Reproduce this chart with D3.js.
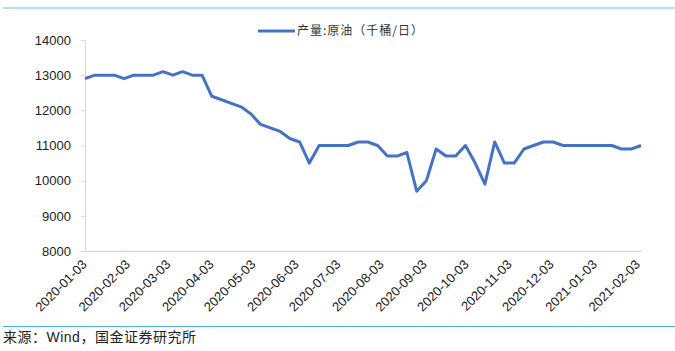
<!DOCTYPE html>
<html>
<head>
<meta charset="utf-8">
<script src="https://cdn.jsdelivr.net/npm/d3@7"></script>
<style>
  body { margin: 0; background: #fff; }
  svg { display: block; font-family: "Liberation Sans", Arial, sans-serif; }
</style>
</head>
<body>
<svg id="chart" width="675" height="351"></svg>
<script>
// weekly dates
const dates = [
  "2020-01-03","2020-01-10","2020-01-17","2020-01-24","2020-01-31",
  "2020-02-07","2020-02-14","2020-02-21","2020-02-28",
  "2020-03-06","2020-03-13","2020-03-20","2020-03-27",
  "2020-04-03","2020-04-10","2020-04-17","2020-04-24",
  "2020-05-01","2020-05-08","2020-05-15","2020-05-22","2020-05-29",
  "2020-06-05","2020-06-12","2020-06-19","2020-06-26",
  "2020-07-03","2020-07-10","2020-07-17","2020-07-24","2020-07-31",
  "2020-08-07","2020-08-14","2020-08-21","2020-08-28",
  "2020-09-04","2020-09-11","2020-09-18","2020-09-25",
  "2020-10-02","2020-10-09","2020-10-16","2020-10-23","2020-10-30",
  "2020-11-06","2020-11-13","2020-11-20","2020-11-27",
  "2020-12-04","2020-12-11","2020-12-18","2020-12-25",
  "2021-01-01","2021-01-08","2021-01-15","2021-01-22","2021-01-29",
  "2021-02-05"
];

// 产量:原油 (千桶/日)
const output = [
  12900, 13000, 13000, 13000, 12900,
  13000, 13000, 13000, 13100,
  13000, 13100, 13000, 13000,
  12400, 12300, 12200, 12100,
  11900, 11600, 11500, 11400, 11200,
  11100, 10500, 11000, 11000,
  11000, 11000, 11100, 11100, 11000,
  10700, 10700, 10800, 9700,
  10000, 10900, 10700, 10700,
  11000, 10500, 9900, 11100, 10500,
  10500, 10900, 11000, 11100,
  11100, 11000, 11000, 11000,
  11000, 11000, 11000, 10900, 10900,
  11000
];

const xTickLabels = [
  "2020-01-03","2020-02-03","2020-03-03","2020-04-03","2020-05-03",
  "2020-06-03","2020-07-03","2020-08-03","2020-09-03","2020-10-03",
  "2020-11-03","2020-12-03","2021-01-03","2021-02-03"
];
const yTicks = [8000, 9000, 10000, 11000, 12000, 13000, 14000];

const parse = d3.timeParse("%Y-%m-%d");
const data = dates.map((d, i) => ({ date: parse(d), value: output[i] }));

const svg = d3.select("#chart");

const x = d3.scaleTime()
  .domain([parse(dates[0]), parse(dates[dates.length - 1])])
  .range([85, 641]);

const y = d3.scaleLinear()
  .domain([8000, 14000])
  .range([251, 40]);

// top & bottom decoration lines
svg.append("line")
  .attr("x1", 3).attr("x2", 675).attr("y1", 8).attr("y2", 8)
  .attr("stroke", "#9dd3f2").attr("stroke-width", 1.5);
svg.append("line")
  .attr("x1", 3).attr("x2", 675).attr("y1", 326.5).attr("y2", 326.5)
  .attr("stroke", "#4db3e6").attr("stroke-width", 1.2);

// y axis
const yAxis = svg.append("g")
  .attr("transform", "translate(85,0)")
  .call(d3.axisLeft(y).tickValues(yTicks).tickSize(4).tickPadding(10).tickFormat(d3.format("d")));
yAxis.select(".domain").attr("stroke", "#d9d9d9");
yAxis.selectAll(".tick line").attr("stroke", "#d9d9d9");
yAxis.selectAll("text")
  .style("font-size", "13px")
  .attr("fill", "#222");

// x axis
const xAxis = svg.append("g")
  .attr("transform", "translate(0,251)")
  .call(d3.axisBottom(x).tickValues(xTickLabels.map(parse)).tickSize(0).tickFormat(d3.timeFormat("%Y-%m-%d")));
xAxis.select(".domain").attr("stroke", "#d9d9d9").attr("stroke-width", 1.5);
xAxis.selectAll("text")
  .style("font-size", "13px")
  .attr("fill", "#222")
  .attr("text-anchor", "end")
  .attr("dy", "0.35em")
  .attr("transform", "translate(-1,11) rotate(-45)")
  .attr("y", 0).attr("x", 0);

// line
const line = d3.line()
  .x(d => x(d.date))
  .y(d => y(d.value));

svg.append("path")
  .datum(data)
  .attr("fill", "none")
  .attr("stroke", "#4472c4")
  .attr("stroke-width", 3)
  .attr("stroke-linejoin", "round")
  .attr("d", line);

// legend
svg.append("line")
  .attr("x1", 258).attr("x2", 295).attr("y1", 31).attr("y2", 31)
  .attr("stroke", "#4472c4").attr("stroke-width", 3);
svg.append("text")
  .attr("x", 297).attr("y", 31)
  .attr("dy", "0.35em")
  .style("font-family", "'Noto Sans CJK SC', sans-serif")
  .style("font-size", "12px")
  .style("letter-spacing", "1px")
  .attr("fill", "#333")
  .text("产量:原油（千桶/日）");

// source
svg.append("text")
  .attr("x", 3).attr("y", 342)
  .style("font-family", "'Liberation Sans', 'Noto Sans CJK SC', sans-serif")
  .style("font-size", "14px")
  .style("letter-spacing", "0.5px")
  .attr("fill", "#222")
  .text("来源：Wind，国金证券研究所");
</script>
</body>
</html>
